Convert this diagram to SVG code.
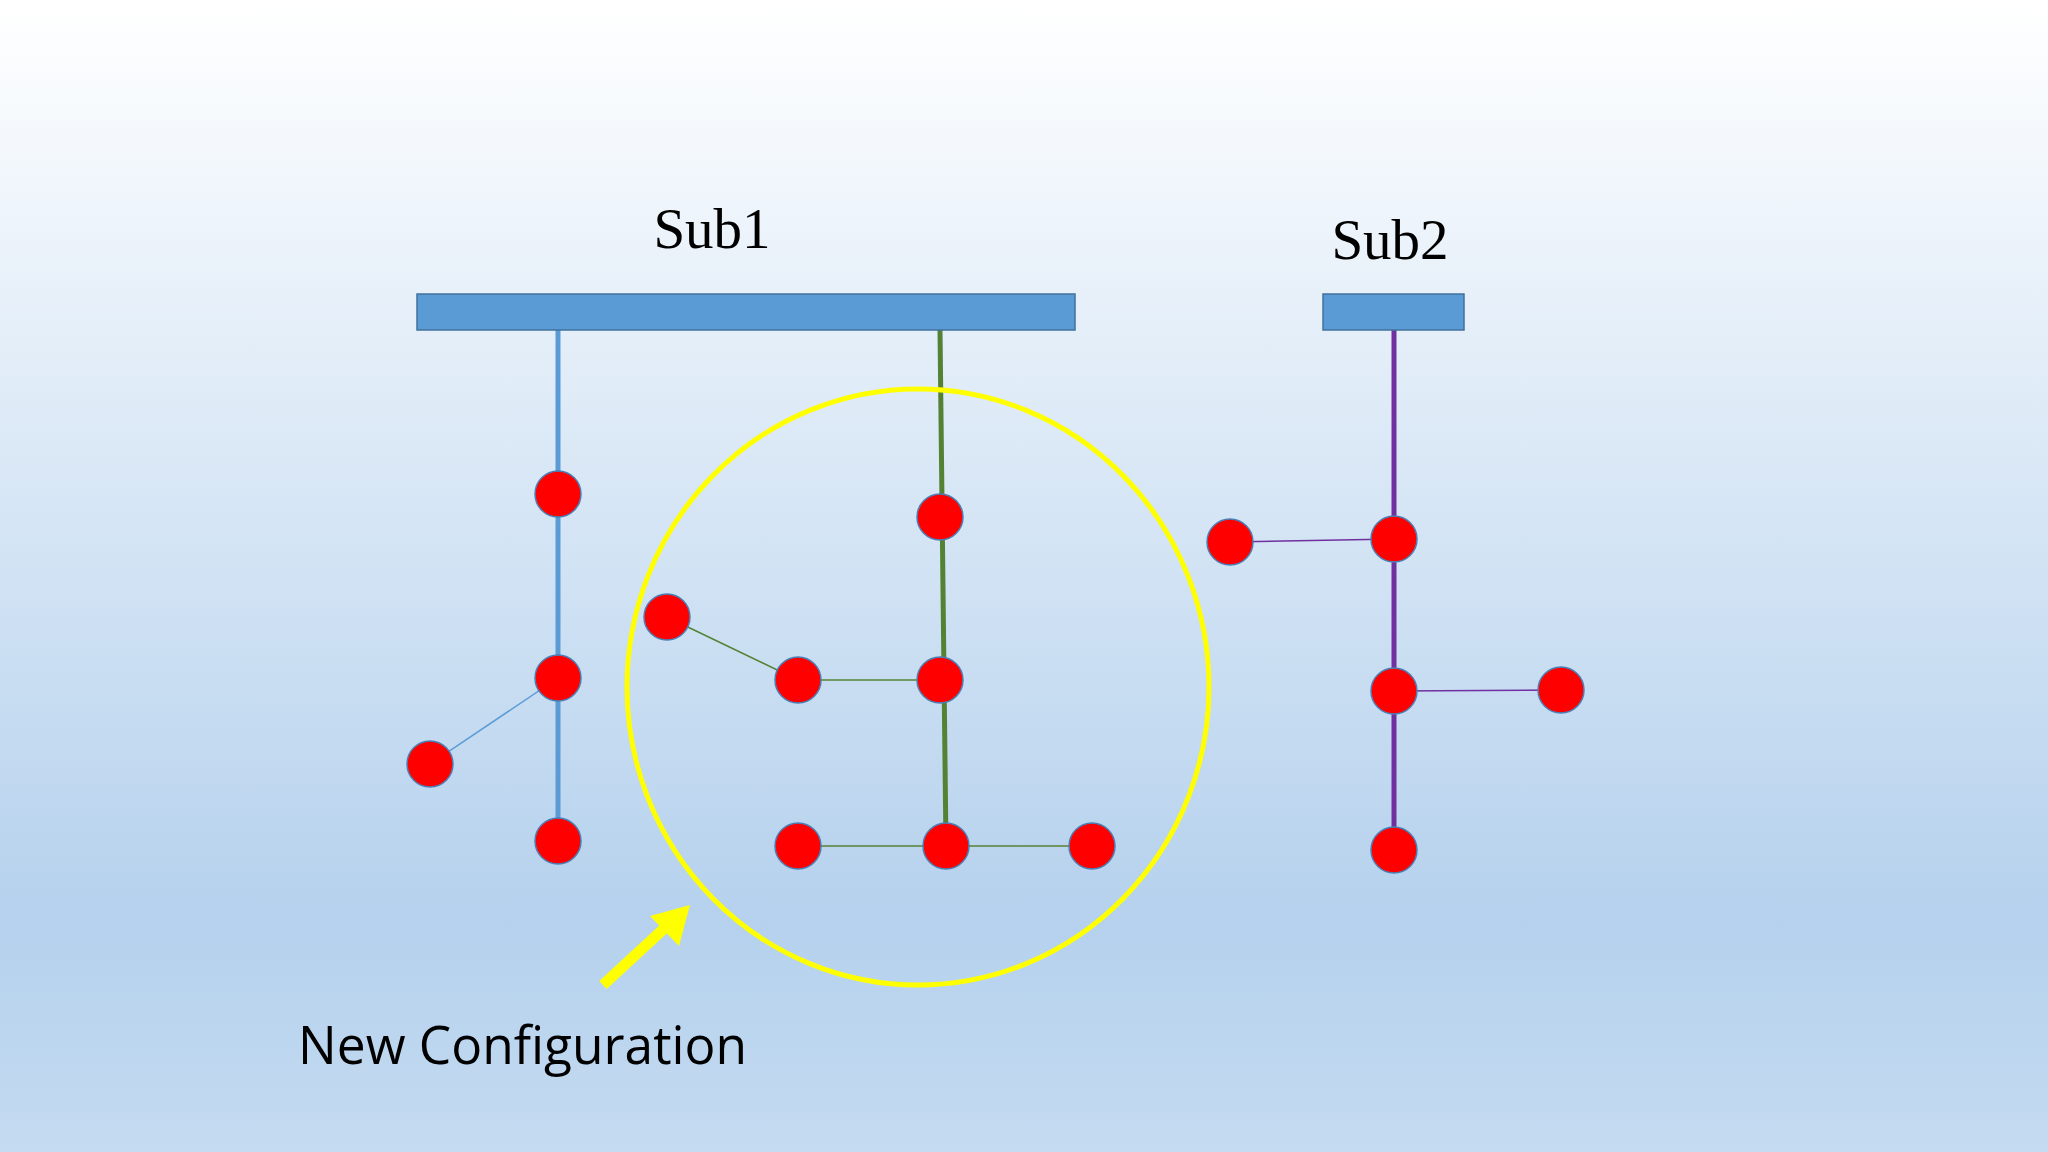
<svg xmlns="http://www.w3.org/2000/svg" width="2048" height="1152" viewBox="0 0 2048 1152">
<defs>
<linearGradient id="bg" x1="0" y1="0" x2="0" y2="1">
<stop offset="0" stop-color="#ffffff"/>
<stop offset="0.8" stop-color="#b5d1ed"/>
<stop offset="1" stop-color="#c4dbf1"/>
</linearGradient>
<style>
.n{fill:#ff0000;stroke:#4a7fb5;stroke-width:1.5}
.bar{fill:#5b9bd5;stroke:#41719c;stroke-width:1.5}
.lbl{font-family:"Liberation Serif",serif;font-size:57px;fill:#000}
</style>
</defs>
<rect width="2048" height="1152" fill="url(#bg)"/>
<g id="connectors">
<line x1="558" y1="330" x2="558" y2="841" stroke="#5b9bd5" stroke-width="5"/>
<line x1="558" y1="678" x2="430" y2="764" stroke="#5b9bd5" stroke-width="1.5"/>
<line x1="940" y1="330" x2="946" y2="846" stroke="#548235" stroke-width="5"/>
<line x1="667" y1="617" x2="798" y2="680" stroke="#548235" stroke-width="1.5"/>
<line x1="798" y1="680" x2="940" y2="680" stroke="#548235" stroke-width="1.5"/>
<line x1="798" y1="846" x2="1092" y2="846" stroke="#548235" stroke-width="1.5"/>
<line x1="1394" y1="330" x2="1394" y2="850" stroke="#7030a0" stroke-width="5"/>
<line x1="1230" y1="542" x2="1394" y2="539" stroke="#7030a0" stroke-width="1.5"/>
<line x1="1394" y1="691" x2="1561" y2="690" stroke="#7030a0" stroke-width="1.5"/>
</g>
<g id="sub1"><rect class="bar" x="417" y="294" width="658" height="36"/><text class="lbl" x="712" y="248" text-anchor="middle">Sub1</text></g>
<g id="sub2"><rect class="bar" x="1323" y="294" width="141" height="36"/><text class="lbl" x="1390" y="259" text-anchor="middle">Sub2</text></g>
<g id="nodes">
<circle class="n" cx="558" cy="494" r="23"/>
<circle class="n" cx="558" cy="678" r="23"/>
<circle class="n" cx="558" cy="841" r="23"/>
<circle class="n" cx="430" cy="764" r="23"/>
<circle class="n" cx="940" cy="517" r="23"/>
<circle class="n" cx="940" cy="680" r="23"/>
<circle class="n" cx="798" cy="680" r="23"/>
<circle class="n" cx="667" cy="617" r="23"/>
<circle class="n" cx="946" cy="846" r="23"/>
<circle class="n" cx="798" cy="846" r="23"/>
<circle class="n" cx="1092" cy="846" r="23"/>
<circle class="n" cx="1394" cy="539" r="23"/>
<circle class="n" cx="1230" cy="542" r="23"/>
<circle class="n" cx="1394" cy="691" r="23"/>
<circle class="n" cx="1561" cy="690" r="23"/>
<circle class="n" cx="1394" cy="850" r="23"/>
</g>
<g id="highlight">
<ellipse cx="918" cy="687" rx="291" ry="298" fill="none" stroke="#ffff00" stroke-width="5"/>
<line x1="603" y1="985" x2="670" y2="923" stroke="#ffff00" stroke-width="11"/>
<polygon points="690,905 650,916 679,946" fill="#ffff00"/>
<text x="298" y="1064" font-family="'Open Sans',sans-serif" font-size="53" textLength="449" lengthAdjust="spacingAndGlyphs" fill="#000">New Configuration</text>
</g>
</svg>
